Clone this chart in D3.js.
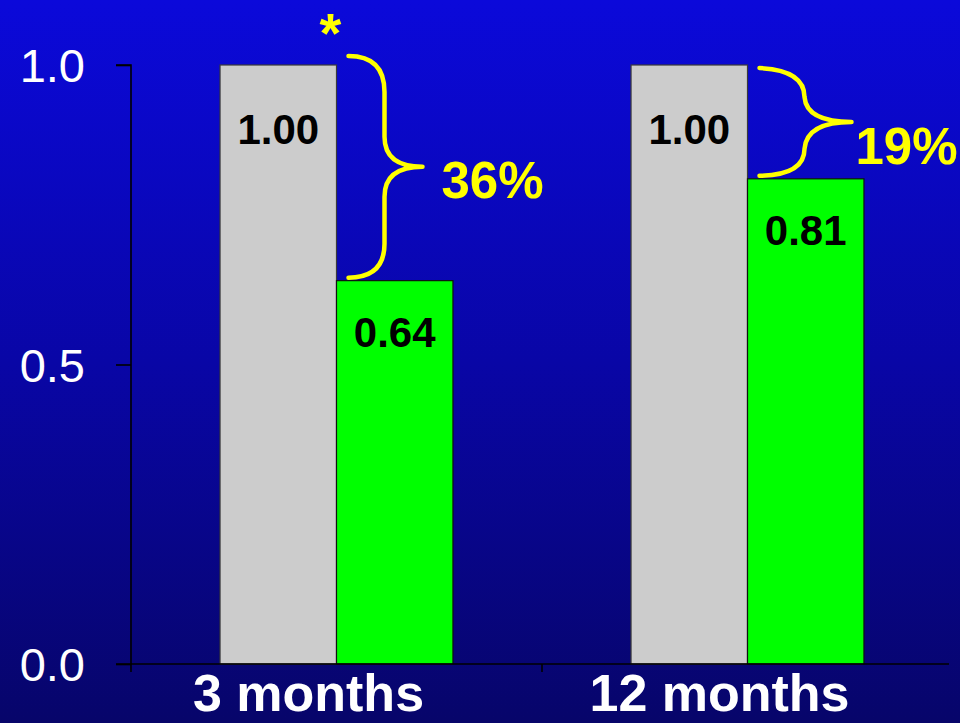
<!DOCTYPE html>
<html>
<head>
<meta charset="utf-8">
<script src="https://cdn.jsdelivr.net/npm/d3@7"></script>
<style>
  html, body { margin: 0; padding: 0; background: #08066e; }
  svg { display: block; }
  text { font-family: Arial, "Liberation Sans", sans-serif; }
</style>
</head>
<body>
<svg id="chart" width="960" height="723"></svg>
<script>
// Relative values at each follow-up point
const categories = ["3 months", "12 months"];
const seriesNames = ["reference", "treated"];
const referenceValues = [1.00, 1.00];
const treatedValues = [0.64, 0.81];
const reductionLabels = ["36%", "19%"];
const significanceMarks = ["*", ""];
const yTicks = [0.0, 0.5, 1.0];
const yTickLabels = ["0.0", "0.5", "1.0"];

const W = 960, H = 723;
const svg = d3.select("#chart");

// Background gradient
const defs = svg.append("defs");
const grad = defs.append("linearGradient")
  .attr("id", "bg").attr("x1", 0).attr("y1", 0).attr("x2", 0).attr("y2", 1);
grad.append("stop").attr("offset", "0%").attr("stop-color", "#0b09da");
grad.append("stop").attr("offset", "50%").attr("stop-color", "#0906a6");
grad.append("stop").attr("offset", "100%").attr("stop-color", "#07056a");
svg.append("rect").attr("width", W).attr("height", H).attr("fill", "url(#bg)");

// Scales
const x0 = d3.scaleBand().domain(categories).range([131, 953]).paddingInner(0).paddingOuter(0);
const x1 = d3.scaleBand().domain(seriesNames).range([0, x0.bandwidth()]).paddingOuter(0.7646).paddingInner(0);
const y = d3.scaleLinear().domain([0, 1]).range([664, 65]);

const rows = categories.map((c, i) => ({
  cat: c,
  values: [
    { key: "reference", v: referenceValues[i] },
    { key: "treated", v: treatedValues[i] }
  ],
  reduction: reductionLabels[i],
  mark: significanceMarks[i],
  idx: i
}));

const fills = { reference: "#cccccc", treated: "#00ff00" };
const strokes = { reference: "#3a3a3a", treated: "#111111" };

// Bars
const groups = svg.append("g").selectAll("g").data(rows).join("g")
  .attr("transform", d => `translate(${x0(d.cat)},0)`);

groups.selectAll("rect").data(d => d.values).join("rect")
  .attr("x", d => x1(d.key))
  .attr("y", d => y(d.v))
  .attr("width", x1.bandwidth())
  .attr("height", d => y(0) - y(d.v))
  .attr("fill", d => fills[d.key])
  .attr("stroke", d => strokes[d.key])
  .attr("stroke-width", 1.2);

// Value labels inside bars
groups.selectAll("text.val").data(d => d.values).join("text")
  .attr("class", "val")
  .attr("x", d => x1(d.key) + x1.bandwidth() / 2)
  .attr("y", d => y(d.v) + (d.key === "reference" ? 79 : 66))
  .attr("text-anchor", "middle")
  .attr("font-size", 42)
  .attr("font-weight", "bold")
  .attr("fill", "#000")
  .text(d => d.v.toFixed(2));

// Y axis
const yAxis = d3.axisLeft(y).tickValues(yTicks).tickSize(15)
  .tickFormat((d, i) => yTickLabels[i]);
const gy = svg.append("g").attr("transform", "translate(131,0)").call(yAxis);
gy.select(".domain").attr("d", `M-15,${y(1)}H0V${y(0) + 8}`).attr("stroke", "#000").attr("stroke-width", 1.6);
gy.selectAll(".tick line").attr("stroke", "#000").attr("stroke-width", 1.6);
gy.selectAll(".tick text")
  .attr("x", -46)
  .attr("dy", "0.36em")
  .attr("fill", "#fff")
  .attr("font-size", 47)
  .attr("font-family", "Arial, 'Liberation Sans', sans-serif");

// X axis
const xAxis = d3.axisBottom(x0).tickSize(0).tickFormat("");
const gx = svg.append("g").attr("transform", `translate(0,${y(0)})`).call(xAxis);
gx.select(".domain").attr("d", `M116,0H949`).attr("stroke", "#000").attr("stroke-width", 1.6);
gx.selectAll(".tick").remove();
// Category boundary ticks
gx.selectAll("line.sep").data(categories.slice(1)).join("line")
  .attr("class", "sep")
  .attr("x1", d => x0(d)).attr("x2", d => x0(d))
  .attr("y1", 0).attr("y2", 8)
  .attr("stroke", "#000").attr("stroke-width", 1.6);

// Category labels
svg.append("g").selectAll("text").data(categories).join("text")
  .attr("x", d => x0(d) + x0.bandwidth() / 2 - 28)
  .attr("y", 711)
  .attr("text-anchor", "middle")
  .attr("font-size", 52)
  .attr("font-weight", "bold")
  .attr("fill", "#fff")
  .text(d => d);

// Braces marking the drop from reference to treated
function bracePath(d) {
  const gx0 = x0(d.cat) + x1("treated") + 12;
  const top = y(d.values[0].v) + (d.idx === 0 ? -9 : 3);
  const bot = y(d.values[1].v) - 3;
  const mid = (top + bot) / 2;
  const span = bot - top;
  if (span > 150) {
    const xv = gx0 + 36, xt = gx0 + 74;
    return `M${gx0},${top} Q${xv},${top} ${xv},${top + 36} L${xv},${mid - 30} Q${xv},${mid} ${xt},${mid}` +
           ` Q${xv},${mid} ${xv},${mid + 30} L${xv},${bot - 34} Q${xv},${bot} ${gx0},${bot}`;
  }
  const xv = gx0 + 45, xt = gx0 + 92;
  return `M${gx0},${top} Q${xv},${top + 2} ${xv},${top + 29} Q${xv + 2},${mid} ${xt},${mid}` +
         ` Q${xv + 2},${mid} ${xv},${mid + 27} Q${xv},${bot - 1} ${gx0},${bot}`;
}

const ann = svg.append("g");
ann.selectAll("path").data(rows).join("path")
  .attr("d", bracePath)
  .attr("fill", "none")
  .attr("stroke", "#ffff00")
  .attr("stroke-width", 4.5)
  .attr("stroke-linecap", "round")
  .attr("stroke-linejoin", "round");

ann.selectAll("text.pct").data(rows).join("text")
  .attr("class", "pct")
  .attr("x", d => x0(d.cat) + x1("treated") + (d.idx === 0 ? 105 : 108))
  .attr("y", d => {
    const mid = (y(d.values[0].v) + y(d.values[1].v)) / 2;
    return mid + (d.idx === 0 ? 25 : 42);
  })
  .attr("font-size", 51)
  .attr("font-weight", "bold")
  .attr("fill", "#ffff00")
  .text(d => d.reduction);

ann.selectAll("text.mark").data(rows.filter(d => d.mark)).join("text")
  .attr("class", "mark")
  .attr("x", d => x0(d.cat) + x1("treated") - 6)
  .attr("y", d => y(d.values[0].v) - 13)
  .attr("text-anchor", "middle")
  .attr("font-size", 56)
  .attr("font-weight", "bold")
  .attr("fill", "#ffff00")
  .text(d => d.mark);
</script>
</body>
</html>
